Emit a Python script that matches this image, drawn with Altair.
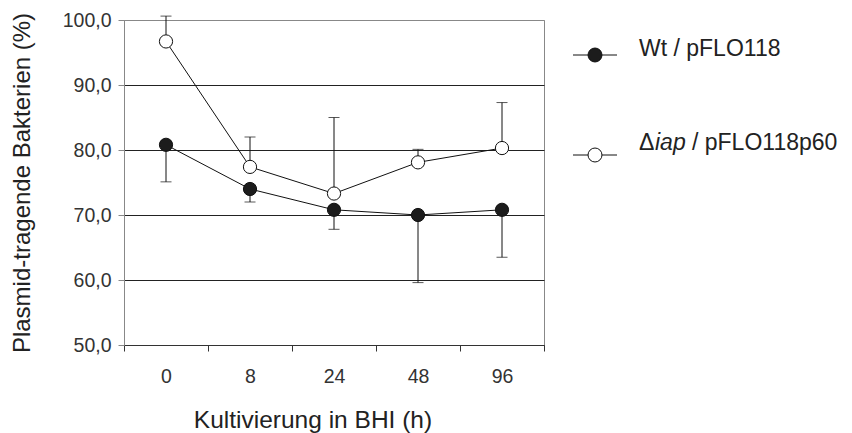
import altair as alt
import pandas as pd

# ---- data ----
times = ["0", "8", "24", "48", "96"]
series_names = ["Wt / pFLO118", "Δiap / pFLO118p60"]
wt_values = [80.8, 74.0, 70.8, 70.0, 70.8]
wt_err_end = [75.1, 72.0, 67.8, 59.6, 63.5]      # lower error bars
iap_values = [96.7, 77.4, 73.3, 78.1, 80.3]
iap_err_end = [100.6, 82.0, 85.0, 80.1, 87.3]    # upper error bars
y_ticks = [50, 60, 70, 80, 90, 100]
legend_wt = "Wt / pFLO118"
legend_iap_parts = ["Δ", "iap", "/ pFLO118p60"]

rows = []
for t, v, e in zip(times, wt_values, wt_err_end):
    rows.append({"t": t, "series": series_names[0], "value": v, "err": e})
for t, v, e in zip(times, iap_values, iap_err_end):
    rows.append({"t": t, "series": series_names[1], "value": v, "err": e})
df = pd.DataFrame(rows)

FONT = "Liberation Sans"
INK = "#111111"

x_enc = alt.X(
    "t:N",
    sort=times,
    scale=alt.Scale(type="band", paddingInner=0, paddingOuter=0),
    axis=alt.Axis(
        title="Kultivierung in BHI (h)",
        labelAngle=0,
        tickBand="extent",
        domainColor="#333333",
        tickColor="#333333",
        tickSize=6,
        labelPadding=16,
        labelFont=FONT,
        labelFontSize=19.5,
        labelColor="#333333",
        titleFont=FONT,
        titleFontSize=24.5,
        titleFontWeight="normal",
        titleColor="#222222",
        titleX=188.5,
        titleY=82,
        titleAlign="center",
        titleBaseline="alphabetic",
        grid=False,
    ),
)

y_enc = alt.Y(
    "value:Q",
    scale=alt.Scale(domain=[50, 100], nice=False, zero=False),
    axis=alt.Axis(
        title="Plasmid-tragende Bakterien (%)",
        values=y_ticks,
        labelExpr="replace(format(datum.value, '.1f'), '.', ',')",
        domainColor="#888888",
        tickColor="#888888",
        tickSize=6,
        labelPadding=7,
        labelFont=FONT,
        labelFontSize=19.5,
        labelColor="#333333",
        titleFont=FONT,
        titleFontSize=24,
        titleFontWeight="normal",
        titleColor="#222222",
        titleX=-95,
        titleY=162.5,
        titleAlign="center",
        titleBaseline="alphabetic",
        grid=True,
        gridColor={"condition": {"test": "datum.value >= 100", "value": "#888888"}, "value": "#222222"},
        gridWidth=1,
    ),
)

base = alt.Chart(df)

lines = base.mark_line(color=INK, strokeWidth=1).encode(x=x_enc, y=y_enc, detail="series:N")
err_rules = base.mark_rule(color=INK, strokeWidth=1).encode(x=x_enc, y=y_enc, y2="err:Q")
caps = base.mark_tick(color=INK, thickness=1, size=11).encode(x=x_enc, y=alt.Y("err:Q"))
points = base.mark_point(shape="circle", filled=True, size=175, opacity=1, strokeWidth=1).encode(
    x=x_enc,
    y=y_enc,
    fill=alt.Fill("series:N", scale=alt.Scale(domain=series_names, range=["#1c1c1c", "#ffffff"]), legend=None),
    stroke=alt.value(INK),
)

# ---- manual legend (layout positions only) ----
leg1 = alt.Chart(pd.DataFrame({"s": [legend_wt]}))
leg2 = alt.Chart(pd.DataFrame({"a": [legend_iap_parts[0]], "b": [legend_iap_parts[1]], "c": [legend_iap_parts[2]]}))

leg1_line = leg1.mark_rule(color=INK, strokeWidth=1).encode(x=alt.value(449), x2=alt.value(493), y=alt.value(35))
leg1_pt = leg1.mark_point(shape="circle", filled=True, size=195, fill="#1c1c1c", stroke=INK, strokeWidth=1, opacity=1).encode(
    x=alt.value(471), y=alt.value(35))
leg1_txt = leg1.mark_text(align="left", baseline="alphabetic", font=FONT, fontSize=23, color="#222222").encode(
    x=alt.value(515), y=alt.value(36), text="s:N")

leg2_line = leg2.mark_rule(color=INK, strokeWidth=1).encode(x=alt.value(449), x2=alt.value(493), y=alt.value(135))
leg2_pt = leg2.mark_point(shape="circle", filled=True, size=195, fill="#ffffff", stroke=INK, strokeWidth=1, opacity=1).encode(
    x=alt.value(471), y=alt.value(135))
leg2_a = leg2.mark_text(align="left", baseline="alphabetic", font=FONT, fontSize=23, color="#222222").encode(
    x=alt.value(515), y=alt.value(130), text="a:N")
leg2_b = leg2.mark_text(align="left", baseline="alphabetic", font=FONT, fontSize=23, fontStyle="italic", color="#222222").encode(
    x=alt.value(531), y=alt.value(130), text="b:N")
leg2_c = leg2.mark_text(align="left", baseline="alphabetic", font=FONT, fontSize=23, color="#222222").encode(
    x=alt.value(568), y=alt.value(130), text="c:N")

chart = alt.layer(
    lines, err_rules, caps, points,
    leg1_line, leg1_pt, leg1_txt,
    leg2_line, leg2_pt, leg2_a, leg2_b, leg2_c,
).properties(
    width=420,
    height=325,
    autosize=alt.AutoSizeParams(type="none"),
    padding={"left": 124, "top": 20, "right": 308, "bottom": 88},
    background="white",
).configure_view(stroke="#888888", strokeWidth=1)

chart.save("out.html", embed_options={"renderer": "svg", "actions": False})
